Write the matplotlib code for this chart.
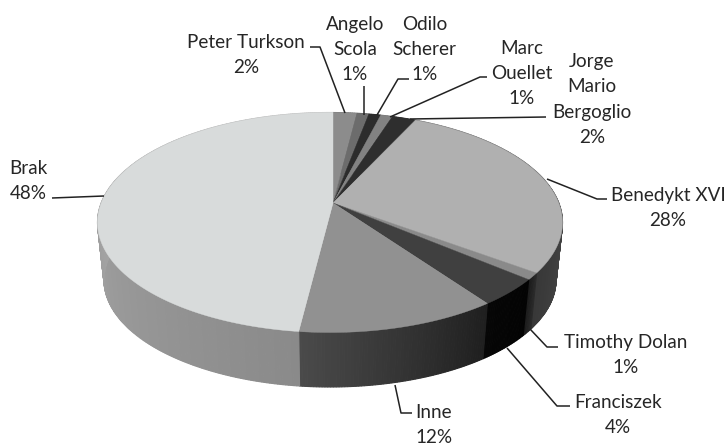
import numpy as np
import matplotlib
matplotlib.use('Agg')
import matplotlib.pyplot as plt
from matplotlib.patches import Polygon

plt.rcParams['font.family'] = ['Lato', 'DejaVu Sans']

#slices clockwise from the top
names = ['Peter Turkson', 'Angelo\nScola', 'Odilo\nScherer', 'Marc\nOuellet', 'Jorge\nMario\nBergoglio',
         'Benedykt XVI', 'Timothy Dolan', 'Franciszek', 'Inne', 'Brak']
values = [2, 1, 1, 1, 2, 28, 1, 4, 12, 48]

#colours of the top face and of the side (start and end of the shading)
top_colors = ['#8c8c8c', '#6c6c6c', '#2c2c2c', '#828282', '#2e2e2e',
              '#b0b0b0', '#8a8a8a', '#404040', '#919191', '#d8dbdb']
side_start = ['#777777', '#666666', '#333333', '#777777', '#333333',
              '#6a6a6a', '#2a2a2a', '#030303', '#1f1f1f', '#8a8a8a']
side_end = ['#777777', '#666666', '#333333', '#777777', '#333333',
            '#383838', '#1c1c1c', '#060606', '#4a4a4a', '#bdbdbd']

#pie geometry in pixels
cx, cy = 330, 222.5
rx, ry = 232.5, 110
apex_x, apex_y = 333, 203
cy_low, rx_low, ry_low = 280, 226, 107

#label centres and leader lines in pixels
label_pos = [(246, 55), (355, 49.5), (424.5, 49.5), (522, 73.5), (592, 99.5),
             (668, 208), (626, 355), (618, 415), (434, 425), (28, 181)]
leaders = [[(310, 47), (320, 47), (345, 113)],
           [(364, 86), (364, 115)],
           [(409, 79), (398, 79), (377, 115)],
           [(487, 77), (480, 77), (390, 117)],
           [(546, 117), (410, 119)],
           [(607, 199), (597, 199), (547, 179)],
           [(558, 347), (547, 347), (530, 329)],
           [(570, 406), (557, 406), (507, 348)],
           [(412, 413), (401, 413), (395, 385)],
           [(52, 198), (104, 196)]]


def rim(theta):
    #ray from the off centre apex out to the ellipse, gives unit circle coords
    px = (apex_x - cx) / rx
    py = (apex_y - cy) / ry
    dx, dy = np.sin(theta), -np.cos(theta)
    pd = px * dx + py * dy
    t = -pd + np.sqrt(pd ** 2 - (px ** 2 + py ** 2) + 1)
    return px + t * dx, py + t * dy


def hex_gray(c):
    return np.array(matplotlib.colors.to_rgb(c))


fig = plt.figure(figsize=(7.27, 4.46), dpi=100)
ax = fig.add_axes([0, 0, 1, 1])
ax.set_xlim(0, 727)
ax.set_ylim(446, 0)
ax.axis('off')

edges = np.radians(np.cumsum([0] + values) * 360 / sum(values))

#sides first, the top covers the back part
for i in range(len(values)):
    th = np.linspace(edges[i], edges[i + 1], max(2, int(values[i] * 6)))
    for j in range(len(th) - 1):
        ux0, uy0 = rim(th[j])
        ux1, uy1 = rim(th[j + 1])
        f = j / max(1, len(th) - 2)
        col = hex_gray(side_start[i]) * (1 - f) + hex_gray(side_end[i]) * f
        quad = [(cx + rx * ux0, cy + ry * uy0), (cx + rx * ux1, cy + ry * uy1),
                (cx + rx_low * ux1, cy_low + ry_low * uy1), (cx + rx_low * ux0, cy_low + ry_low * uy0)]
        ax.add_patch(Polygon(quad, closed=True, fc=col, ec=col, lw=0.8, zorder=2))

#top face
for i in range(len(values)):
    th = np.linspace(edges[i], edges[i + 1], max(3, int(values[i] * 4)))
    ux, uy = rim(th)
    pts = [(apex_x, apex_y)] + list(zip(cx + rx * ux, cy + ry * uy))
    ax.add_patch(Polygon(pts, closed=True, fc=top_colors[i], ec=top_colors[i], lw=0.3, zorder=3))

for line in leaders:
    xs, ys = zip(*line)
    ax.plot(xs, ys, color='#222222', lw=1.1, zorder=4, solid_capstyle='butt')

for name, v, (x, y) in zip(names, values, label_pos):
    ax.text(x, y, name + '\n' + str(v) + '%', ha='center', va='center', fontsize=13.6,
            color='#262626', linespacing=1.6, zorder=5)

fig.savefig('out.png', dpi=100)
